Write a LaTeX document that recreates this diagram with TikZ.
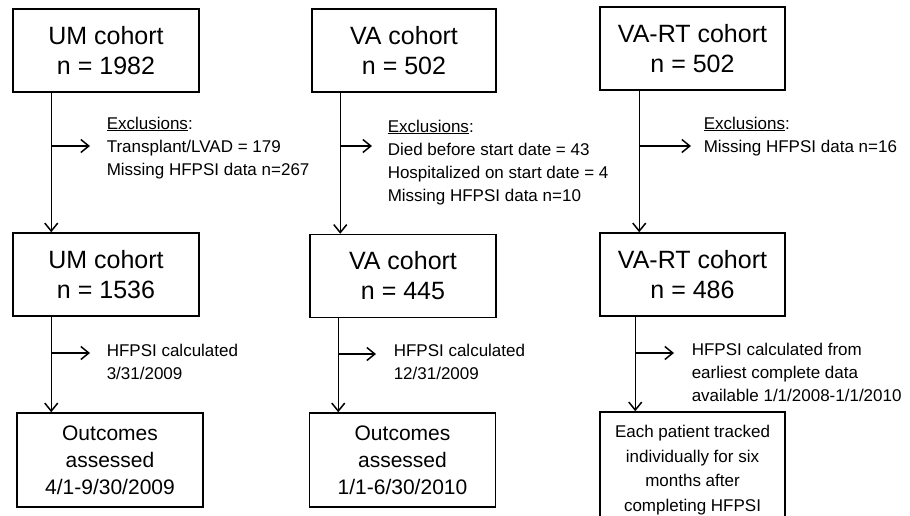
\documentclass[tikz,border=0pt]{standalone}
\usepackage{fontspec}
\setmainfont{Liberation Sans}
\usetikzlibrary{positioning,arrows.meta}

\begin{document}
\begin{tikzpicture}[x=1pt, y=-1pt, ->, >={Straight Barb[length=8pt,width=13pt]},
                    line width=1.5pt,
                    cohort/.style  = {rectangle,
                                      draw,
                                      align = center,
                                      inner sep = 0pt,
                                      minimum width = 186pt,
                                      minimum height = 83pt,
                                      font = \fontsize{25}{30}\selectfont},
                    outcome/.style = {cohort,
                                      minimum height = 94pt,
                                      font = \fontsize{21}{27}\selectfont},
                    note/.style    = {anchor = north west,
                                      inner sep = 0pt,
                                      align = left,
                                      font = \fontsize{17}{23}\selectfont}]

\useasboundingbox (0,0) rectangle (910,516);

% boxes
\node[cohort] (um1) at (106,50.5) {UM cohort\\n = 1982};
\node[cohort] (um2) at (106,274.5) {UM cohort\\n = 1536};
\node[outcome] (um3) at (110,460) {Outcomes\\assessed\\4/1-9/30/2009};

\node[cohort] (va1) [minimum width = 184pt] at (404,50.5) {VA cohort\\n = 502};
\node[cohort] (va2) at (403,276) {VA cohort\\n = 445};
\node[outcome] (va3) at (402.5,460) {Outcomes\\assessed\\1/1-6/30/2010};

\node[cohort] (rt1) [minimum width = 185pt] at (692.5,48.5) {VA-RT cohort\\n = 502};
\node[cohort] (rt2) [minimum width = 185pt] at (692.5,274.5) {VA-RT cohort\\n = 486};
\node[outcome] (rt3) [minimum width = 185pt, minimum height = 116pt,
                      font = \fontsize{17}{24.7}\selectfont] at (692.5,470)
     {Each patient tracked\\individually for six\\months after\\completing HFPSI};

% side notes
\node[note] (ex1) at (106,116) {\underline{Exclusions}:\\Transplant/LVAD = 179\\Missing HFPSI data n=267};
\node[note] (ex2) at (387,119) {\underline{Exclusions}:\\Died before start date = 43\\Hospitalized on start date = 4\\Missing HFPSI data n=10};
\node[note] (ex3) at (703,116) {\underline{Exclusions}:\\Missing HFPSI data n=16};

\node[note] (hf1) at (106,343) {HFPSI calculated\\3/31/2009};
\node[note] (hf2) at (393,343) {HFPSI calculated\\12/31/2009};
\node[note] (hf3) at (691,342) {HFPSI calculated from\\earliest complete data\\available 1/1/2008-1/1/2010};

% branch ends
\coordinate (e1) at (90,146);
\coordinate (e2) at (372,146);
\coordinate (e3) at (691,146);
\coordinate (h1) at (90,353);
\coordinate (h2) at (376,354);
\coordinate (h3) at (674,353);

% main flow
\path ([xshift=39pt]um1.south west) edge ([xshift=39pt]um2.north west);
\path ([xshift=39pt]um2.south west) edge ([xshift=39pt]um2.south west |- um3.north);
\path ([xshift=29pt]va1.south west) edge ([xshift=29pt]va1.south west |- va2.north);
\path ([xshift=29pt]va2.south west) edge ([xshift=29pt]va2.south west |- va3.north);
\path ([xshift=40pt]rt1.south west) edge ([xshift=40pt]rt1.south west |- rt2.north);
\path ([xshift=36pt]rt2.south west) edge ([xshift=36pt]rt2.south west |- rt3.north);

% branches
\path ([xshift=39pt]um1.south west |- e1) edge (e1);
\path ([xshift=39pt]um2.south west |- h1) edge (h1);
\path ([xshift=29pt]va1.south west |- e2) edge (e2);
\path ([xshift=29pt]va2.south west |- h2) edge (h2);
\path ([xshift=40pt]rt1.south west |- e3) edge (e3);
\path ([xshift=36pt]rt2.south west |- h3) edge (h3);

\end{tikzpicture}
\end{document}
